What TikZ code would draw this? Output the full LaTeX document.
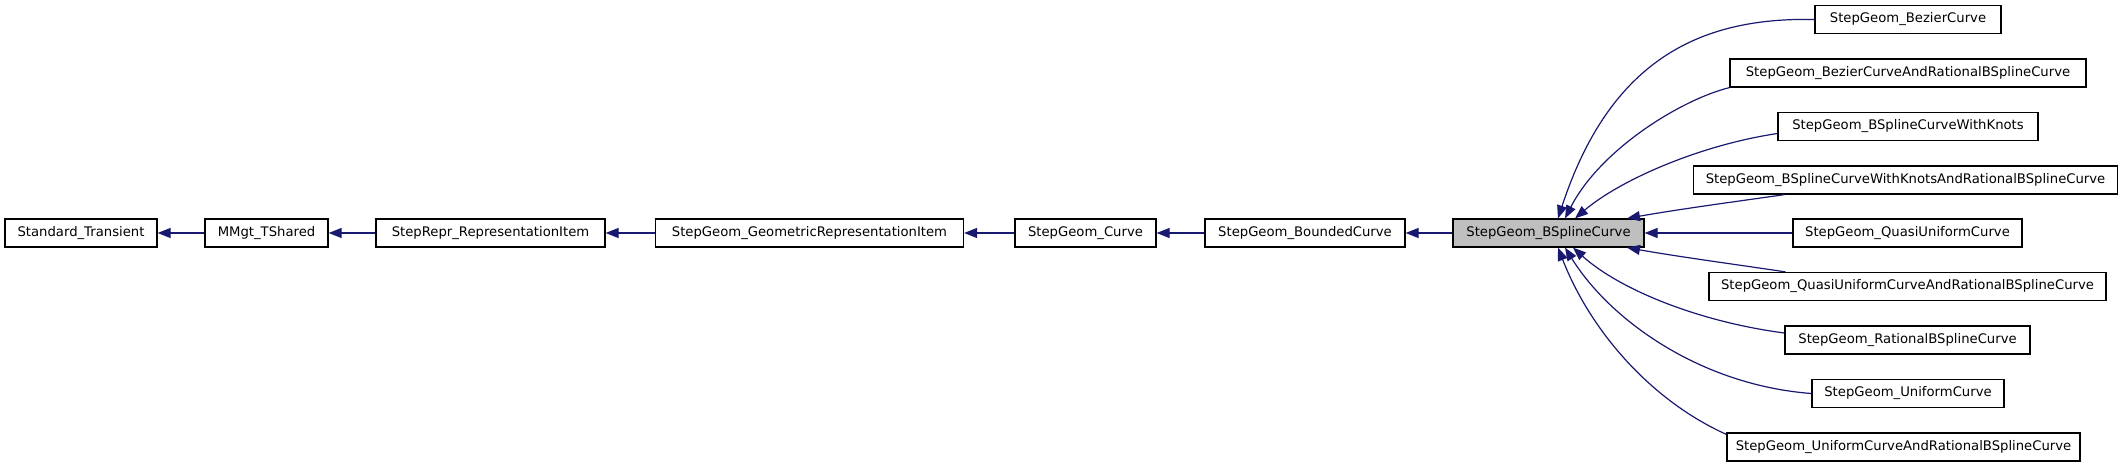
\documentclass[tikz,border=0pt]{standalone}
\usepackage{fontspec}
\setmainfont{DejaVu Sans}
\usetikzlibrary{arrows.meta,calc}
\definecolor{mblue}{HTML}{191970}
\definecolor{hlgray}{HTML}{BFBFBF}
\begin{document}
\begin{tikzpicture}[x=1pt,y=-1pt,
  cls/.style={draw=black,line width=1.2pt,fill=white,minimum height=28pt,inner xsep=6pt,inner ysep=0pt,font=\fontsize{13.2}{15}\selectfont},
  hl/.style={cls,fill=hlgray},
  edge/.style={draw=mblue,line width=1.2pt,-{Triangle[length=13pt,width=10pt,fill=mblue]}}
]
\useasboundingbox (0,0) rectangle (2128,467);
% main chain
\node[cls,minimum width=152pt] (st)  at (81,233)    {Standard\_Transient};
\node[cls,minimum width=123pt] (mm)  at (266.5,233) {MMgt\_TShared};
\node[cls,minimum width=229pt] (rep) at (490.5,233) {StepRepr\_RepresentationItem};
\node[cls,minimum width=308pt] (gri) at (809.5,233) {StepGeom\_GeometricRepresentationItem};
\node[cls,minimum width=141pt] (cur) at (1085.5,233){StepGeom\_Curve};
\node[cls,minimum width=200pt] (bnd) at (1305,233)  {StepGeom\_BoundedCurve};
\node[hl, minimum width=191pt] (bsp) at (1548.5,233){StepGeom\_BSplineCurve};
% derived classes
\node[cls,minimum width=186pt] (bez) at (1908,19.5) {StepGeom\_BezierCurve};
\node[cls,minimum width=356pt] (bar) at (1908,73)   {StepGeom\_BezierCurveAndRationalBSplineCurve};
\node[cls,minimum width=260pt] (wk)  at (1908,126.5){StepGeom\_BSplineCurveWithKnots};
\node[cls,minimum width=424pt] (wkr) at (1905.5,180){StepGeom\_BSplineCurveWithKnotsAndRationalBSplineCurve};
\node[cls,minimum width=229pt] (qu)  at (1907.5,233){StepGeom\_QuasiUniformCurve};
\node[cls,minimum width=397pt] (qur) at (1907.5,286.5){StepGeom\_QuasiUniformCurveAndRationalBSplineCurve};
\node[cls,minimum width=245pt] (rat) at (1907.5,340){StepGeom\_RationalBSplineCurve};
\node[cls,minimum width=192pt] (uni) at (1908,393.5){StepGeom\_UniformCurve};
\node[cls,minimum width=353pt] (uar) at (1903.5,447){StepGeom\_UniformCurveAndRationalBSplineCurve};
% chain edges
\draw[edge] (mm.west)  -- (st.east);
\draw[edge] (rep.west) -- (mm.east);
\draw[edge] (gri.west) -- (rep.east);
\draw[edge] (cur.west) -- (gri.east);
\draw[edge] (bnd.west) -- (cur.east);
\draw[edge] (bsp.west) -- (bnd.east);
\draw[edge] (qu.west)  -- (bsp.east);
% curved edges
\draw[edge] (bez.west) .. controls (1700,17) and (1610,60) .. ($(bsp.north)+(9.5,0)$);
\draw[edge] (bar.south west) .. controls (1680,100) and (1600,150) .. ($(bsp.north)+(16.5,0)$);
\draw[edge] ($(wk.west)+(0,7)$) .. controls (1700,145) and (1620,180) .. ($(bsp.north)+(26.5,0)$);
\draw[edge] ($(wkr.south)+(-121,0)$) .. controls (1740,201) and (1680,209) .. ($(bsp.north)+(78.5,0)$);
\draw[edge] ($(qur.north)+(-122,0)$) .. controls (1740,265) and (1680,257) .. ($(bsp.south)+(78.5,0)$);
\draw[edge] ($(rat.west)+(0,-7)$) .. controls (1700,322) and (1620,290) .. ($(bsp.south)+(24.5,0)$);
\draw[edge] (uni.west) .. controls (1700,385) and (1610,320) .. ($(bsp.south)+(16.5,0)$);
\draw[edge] ($(uar.north west)+(0,2)$) .. controls (1650,400) and (1590,330) .. ($(bsp.south)+(9.5,0)$);
\end{tikzpicture}
\end{document}
